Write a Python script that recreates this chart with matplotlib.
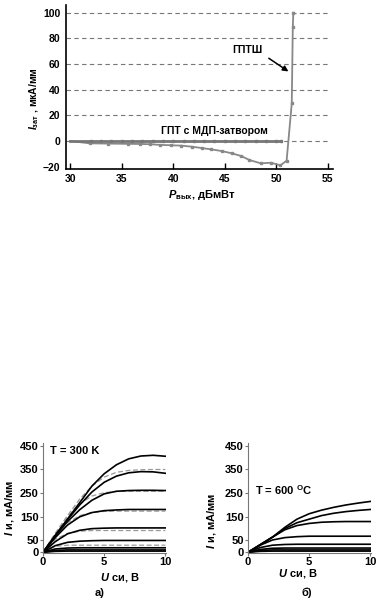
import matplotlib

matplotlib.use("Agg")

import matplotlib.pyplot as plt

plt.rcParams["font.family"] = ["Liberation Sans", "DejaVu Sans"]
plt.rcParams["font.weight"] = "bold"
plt.rcParams["mathtext.fontset"] = "custom"
plt.rcParams["mathtext.rm"] = "Liberation Sans:bold"
plt.rcParams["mathtext.bf"] = "Liberation Sans:bold"
plt.rcParams["mathtext.it"] = "Liberation Sans:italic:bold"

# --- верхний график: ток затвора от выходной мощности ---
p_mdp = [30, 32, 33, 34, 35, 36, 37, 38, 39, 40, 41, 42, 43, 44, 45, 46, 47, 48, 49, 50, 50.5]
i_mdp = [0, 0, 0, 0, 0, 0, 0, 0, 0, 0, 0, 0, 0, 0, 0, 0, 0, 0, 0, 0, 0]

p_ptsh = [30, 31.9, 33.7, 35.65, 36.8, 37.75, 38.7, 39.76, 40.8, 41.8, 42.8, 43.7,
          44.7, 45.7, 46.6, 47.4, 48.5, 49.5, 50.4, 51.0, 51.5, 51.6, 51.65]
i_ptsh = [0, -1.8, -2, -2.2, -2.3, -2.5, -3, -3.3, -3.6, -4.4, -5.5, -6.5,
          -7.8, -9.6, -11.7, -14.8, -17.4, -16.9, -19, -15.3, 29.4, 88.8, 100]

x_ticks_top = [30, 35, 40, 45, 50, 55]
y_ticks_top = [-20, 0, 20, 40, 60, 80, 100]
grid_top = [0, 20, 40, 60, 80, 100]

# --- нижние графики: ВАХ ---
u_si = [0, 1, 2, 3, 4, 5, 6, 7, 8, 9, 10]

iv_300_solid = [
    [0, 72, 140, 210, 280, 332, 370, 395, 407, 410, 406],
    [0, 70, 138, 200, 255, 296, 322, 336, 341, 340, 334],
    [0, 68, 130, 180, 220, 247, 258, 261, 262, 262, 261],
    [0, 62, 115, 150, 168, 176, 179, 181, 181, 181, 181],
    [0, 45, 78, 93, 100, 102, 103, 103, 103, 103, 103],
    [0, 28, 42, 47, 49, 50, 50, 50, 50, 50, 50],
    [0, 14, 18, 19, 19, 19, 19, 19, 19, 19, 19],
    [0, 8, 10, 10, 10, 10, 10, 10, 10, 10, 10],
    [0, 4, 5, 5, 5, 5, 5, 5, 5, 5, 5],
]
iv_300_dashed = [
    [0, 80, 155, 225, 280, 318, 338, 346, 349, 350, 350],
    [0, 78, 150, 205, 238, 252, 257, 258, 258, 258, 258],
    [0, 72, 125, 155, 168, 173, 174, 174, 174, 174, 174],
    [0, 55, 80, 89, 92, 92, 92, 92, 92, 92, 92],
    [0, 25, 30, 30, 30, 30, 30, 30, 30, 30, 30],
]
iv_600_solid = [
    [0, 32, 64, 105, 140, 163, 178, 190, 200, 208, 215],
    [0, 32, 64, 100, 125, 140, 155, 165, 172, 177, 181],
    [0, 32, 64, 95, 113, 122, 127, 129, 130, 130, 130],
    [0, 30, 52, 62, 66, 68, 68, 68, 68, 68, 68],
    [0, 20, 30, 33, 34, 34, 34, 34, 34, 34, 34],
    [0, 12, 17, 18, 18, 18, 18, 18, 18, 18, 18],
    [0, 8, 10, 10, 10, 10, 10, 10, 10, 10, 10],
    [0, 4, 5, 5, 5, 5, 5, 5, 5, 5, 5],
]
x_ticks_iv = [0, 5, 10]
y_ticks_iv = [0, 50, 150, 250, 350, 450]

W, H = 389, 601
fig = plt.figure(figsize=(W / 100, H / 100), dpi=100)


def px_axes(left, top, right, bottom):
    return fig.add_axes([left / W, 1 - bottom / H, (right - left) / W, (bottom - top) / H])


# верхний
ax = px_axes(66, 5, 333, 169)
ax.set_xlim(29.6, 55.5)
ax.set_ylim(-21.8, 106)
ax.hlines(grid_top, 29.6, 55, colors="#777777", linestyles=(0, (4, 3)), linewidth=0.8, zorder=1)
ax.plot(p_ptsh, i_ptsh, color="#888888", linewidth=1.3, marker="s", markersize=2,
        markevery=slice(1, None), zorder=3)
ax.plot(p_mdp, i_mdp, color="#777777", linewidth=2.0, marker="s", markersize=2,
        markevery=slice(1, None), zorder=4)
ax.annotate("", xy=(51.4, 53), xytext=(49.05, 65.7),
            arrowprops=dict(arrowstyle="-|>", color="black", lw=1.1, mutation_scale=8))
ax.text(47.2, 71, "ГПТШ", fontsize=7.5, ha="center", va="center")
ax.text(44.0, 8, "ГПТ с МДП-затвором", fontsize=7.5, ha="center", va="center")
ax.set_xticks(x_ticks_top)
ax.set_yticks(y_ticks_top)
ax.tick_params(direction="in", length=4, labelsize=7.5, width=1)
ax.tick_params(axis="y", length=0, pad=4)
for s in ("top", "right"):
    ax.spines[s].set_visible(False)
for s in ("left", "bottom"):
    ax.spines[s].set_linewidth(1.2)
fig.text(202 / W, 1 - 195 / H, r"$\mathit{P}_{\mathrm{вых}}$, дБмВт", fontsize=8,
         ha="center", va="center")
fig.text(34 / W, 1 - 99 / H, r"$\mathit{I}_{\mathrm{зат}}$ , мкА/мм", fontsize=7.5,
         ha="center", va="center", rotation=90)


def iv_axes(ax, solid, dashed):
    for vals in dashed:
        ax.plot(u_si, vals, color="#999999", linestyle=(0, (4, 2)), linewidth=0.9)
    for vals in solid:
        ax.plot(u_si, vals, color="black", linewidth=1.2)
    ax.set_xlim(0, 10.05)
    ax.set_ylim(-3, 462)
    ax.set_xticks(x_ticks_iv)
    ax.set_yticks(y_ticks_iv)
    ax.tick_params(direction="out", length=2, labelsize=8, pad=1, color="#777777")
    for s in ("top", "right"):
        ax.spines[s].set_visible(False)
    for s in ("left", "bottom"):
        ax.spines[s].set_color("#777777")
        ax.spines[s].set_linewidth(0.8)


ax_a = px_axes(43, 443, 166, 553)
iv_axes(ax_a, iv_300_solid, iv_300_dashed)
ax_a.text(0.6, 430, "T = 300 K", fontsize=8, ha="left", va="center")

ax_b = px_axes(248, 443, 371, 553)
iv_axes(ax_b, iv_600_solid, [])
ax_b.text(0.55, 262, r"T = 600 $^{\mathrm{O}}$C", fontsize=8, ha="left", va="center")

fig.text(120 / W, 1 - 577 / H, r"$\mathit{U}$ си, В", fontsize=8, ha="center", va="center")
fig.text(298 / W, 1 - 573 / H, r"$\mathit{U}$ си, В", fontsize=8, ha="center", va="center")
fig.text(10 / W, 1 - 508 / H, r"$\mathit{I}$ и, мА/мм", fontsize=8, ha="center", va="center",
         rotation=90)
fig.text(212 / W, 1 - 521 / H, r"$\mathit{I}$ и, мА/мм", fontsize=8, ha="center", va="center",
         rotation=90)
fig.text(100 / W, 1 - 593 / H, "а)", fontsize=8, ha="center", va="center")
fig.text(307 / W, 1 - 593 / H, "б)", fontsize=8, ha="center", va="center")

fig.savefig("out.png", dpi=100)
